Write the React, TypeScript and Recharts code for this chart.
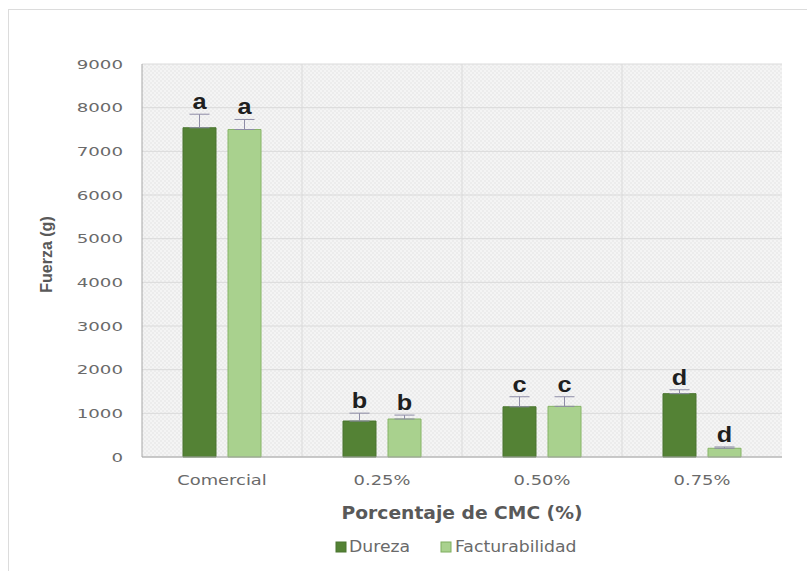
import React from 'react';
import { BarChart, Bar, XAxis, YAxis, CartesianGrid, ErrorBar, LabelList, Legend, Label } from 'recharts';

const categories = ['Comercial', '0.25%', '0.50%', '0.75%'];
const durezaValues = [7540, 824, 1150, 1450];
const durezaErrors = [310, 180, 230, 90];
const facturabilidadValues = [7500, 870, 1160, 200];
const facturabilidadErrors = [230, 90, 220, 30];
const durezaLetters = ['a', 'b', 'c', 'd'];
const facturabilidadLetters = ['a', 'b', 'c', 'd'];
const yTicks = [0, 1000, 2000, 3000, 4000, 5000, 6000, 7000, 8000, 9000];

const DUREZA_COLOR = '#548235';
const FACT_COLOR = '#a9d18e';
const TEXT_GRAY = '#595959';
const TICK_GRAY = '#6a6a6a';

const data = categories.map((name, i) => ({
  name,
  dureza: durezaValues[i],
  durezaErr: [0, durezaErrors[i]],
  facturabilidad: facturabilidadValues[i],
  facturabilidadErr: [0, facturabilidadErrors[i]],
}));

const YTick = (props: any) => {
  const { x, y, payload } = props;
  return (
    <text
      transform={`translate(${x},${y}) scale(1.4,1)`}
      dy={4.5}
      textAnchor="end"
      fontFamily="DejaVu Sans"
      fontSize={13}
      fill={TICK_GRAY}
    >
      {payload.value}
    </text>
  );
};

const XTick = (props: any) => {
  const { x, y, payload } = props;
  return (
    <text
      transform={`translate(${x},${y + 28}) scale(1.28,1)`}
      textAnchor="middle"
      fontFamily="DejaVu Sans"
      fontSize={14}
      fill={TICK_GRAY}
    >
      {payload.value}
    </text>
  );
};

const makeLetterLabel = (letters: string[], errors: number[], values: number[]) => (props: any) => {
  const { x, y, width, height, index } = props;
  const v = values[index];
  const errPx = v ? (errors[index] * Number(height)) / v : 0;
  const cx = Number(x) + Number(width) / 2;
  const by = Number(y) - errPx - 5;
  return (
    <text
      transform={`translate(${cx},${by}) scale(1.15,1)`}
      textAnchor="middle"
      fontFamily="Liberation Sans, Arial"
      fontWeight="bold"
      fontSize={22}
      fill="#1f1f1f"
    >
      {letters[index]}
    </text>
  );
};

const LegendContent = () => (
  <svg width={640} height={20} style={{ display: 'block' }}>
    <g transform="translate(194,0)">
      <rect x={0} y={5} width={10} height={10} fill={DUREZA_COLOR} stroke="#4a7530" />
      <text transform="translate(13,15) scale(1.15,1)" fontFamily="DejaVu Sans" fontSize={15} fill={TICK_GRAY}>
        Dureza
      </text>
      <rect x={105} y={5} width={10} height={10} fill={FACT_COLOR} stroke="#7fae5f" />
      <text transform="translate(119,15) scale(1.15,1)" fontFamily="DejaVu Sans" fontSize={15} fill={TICK_GRAY}>
        Facturabilidad
      </text>
    </g>
  </svg>
);

export default function App() {
  return (
    <div style={{ position: 'absolute', left: 0, top: 0, width: 807, height: 571, background: '#fff', overflow: 'hidden' }}>
      <div
        style={{
          position: 'absolute',
          left: 8,
          top: 9,
          width: 820,
          height: 590,
          border: '1px solid #dcdcdc',
          boxSizing: 'border-box',
        }}
      />
      <div style={{ position: 'absolute', left: 0, top: 0 }}>
        <BarChart
          width={807}
          height={571}
          data={data}
          margin={{ top: 64, right: 25, left: 62, bottom: 44 }}
          barCategoryGap={41}
          barGap={12}
        >
          <defs>
            <pattern id="plotPattern" width="4" height="4" patternUnits="userSpaceOnUse">
              <rect width="4" height="4" fill="#f4f4f4" />
              <rect width="2" height="2" fill="#ececec" />
              <rect x="2" y="2" width="2" height="2" fill="#ececec" />
            </pattern>
          </defs>
          <CartesianGrid
            fill="url(#plotPattern)"
            stroke="#dadada"
            verticalCoordinatesGenerator={({ offset }: any) =>
              [1, 2, 3].map((i) => offset.left + (offset.width * i) / categories.length)
            }
          />
          <XAxis
            dataKey="name"
            height={70}
            tickSize={0}
            tickMargin={0}
            tickLine={false}
            axisLine={{ stroke: '#a6a6a6' }}
            tick={<XTick />}
          >
            <Label
              content={(props: any) => {
                const vb = props.viewBox;
                return (
                  <text
                    transform={`translate(${vb.x + vb.width / 2},${vb.y + 62}) scale(1.1,1)`}
                    textAnchor="middle"
                    fontFamily="DejaVu Sans"
                    fontWeight="bold"
                    fontSize={17}
                    fill={TEXT_GRAY}
                  >
                    Porcentaje de CMC (%)
                  </text>
                );
              }}
            />
          </XAxis>
          <XAxis
            xAxisId="top"
            orientation="top"
            dataKey="name"
            height={0}
            tick={false}
            tickLine={false}
            axisLine={{ stroke: '#a6a6a6' }}
          />
          <YAxis
            width={80}
            domain={[0, 9000]}
            ticks={yTicks}
            tickSize={0}
            tickMargin={19}
            tickLine={false}
            axisLine={{ stroke: '#a6a6a6' }}
            tick={<YTick />}
          >
            <Label
              content={(props: any) => {
                const vb = props.viewBox;
                return (
                  <text
                    transform={`translate(52,${vb.y + vb.height / 2 - 6}) rotate(-90)`}
                    textAnchor="middle"
                    fontFamily="Liberation Sans, Arial"
                    fontWeight="bold"
                    fontSize={16}
                    fill={TEXT_GRAY}
                  >
                    Fuerza (g)
                  </text>
                );
              }}
            />
          </YAxis>
          <YAxis
            yAxisId="right"
            orientation="right"
            width={0}
            domain={[0, 9000]}
            tick={false}
            tickLine={false}
            axisLine={{ stroke: '#a6a6a6' }}
          />
          <Legend
            verticalAlign="middle"
            align="center"
            layout="horizontal"
            content={<LegendContent />}
            wrapperStyle={{ top: 537, left: 142, width: 640, height: 20 }}
          />
          <Bar
            dataKey="dureza"
            name="Dureza"
            fill={DUREZA_COLOR}
            stroke="#4a7530"
            barSize={33}
            isAnimationActive={false}
          >
            <ErrorBar dataKey="durezaErr" width={10} stroke="#8e8ca6" strokeWidth={1} direction="y" />
            <LabelList dataKey="dureza" content={makeLetterLabel(durezaLetters, durezaErrors, durezaValues)} />
          </Bar>
          <Bar
            dataKey="facturabilidad"
            name="Facturabilidad"
            fill={FACT_COLOR}
            stroke="#86b466"
            barSize={33}
            isAnimationActive={false}
          >
            <ErrorBar dataKey="facturabilidadErr" width={10} stroke="#8e8ca6" strokeWidth={1} direction="y" />
            <LabelList
              dataKey="facturabilidad"
              content={makeLetterLabel(facturabilidadLetters, facturabilidadErrors, facturabilidadValues)}
            />
          </Bar>
        </BarChart>
      </div>
    </div>
  );
}
